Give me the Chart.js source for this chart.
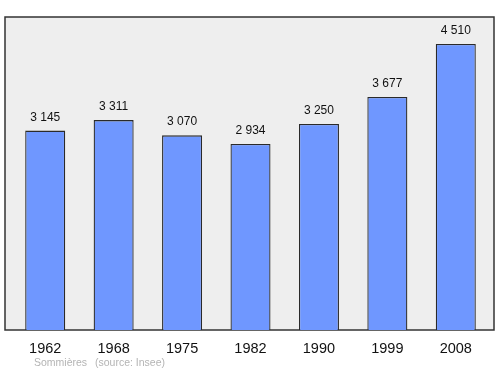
<!DOCTYPE html>
<html>
<head>
<meta charset="utf-8">
<script src="https://cdn.jsdelivr.net/npm/chart.js@4/dist/chart.umd.min.js"></script>
<style>
  html, body { margin: 0; padding: 0; background: #fff; }
  #wrap { width: 500px; height: 374px; position: relative; }
</style>
</head>
<body>
<div id="wrap"><canvas id="myChart" width="500" height="374"></canvas></div>
<script>
// donnees
const annees = ['1962', '1968', '1975', '1982', '1990', '1999', '2008'];
const population = [3145, 3311, 3070, 2934, 3250, 3677, 4510];
const etiquettes = ['3 145', '3 311', '3 070', '2 934', '3 250', '3 677', '4 510'];
const commune = 'Sommières';
const source = '(source: Insee)';
const yMax = 4937;

// fond gris + cadre
const fondPlugin = {
    id: 'fond',
    beforeDraw(chart) {
        const ctx = chart.ctx;
        const a = chart.chartArea;
        ctx.save();
        ctx.fillStyle = '#eeeeee';
        ctx.fillRect(5, a.top, 489, a.bottom - a.top);
        ctx.strokeStyle = '#333333';
        ctx.lineWidth = 1.5;
        ctx.strokeRect(5, a.top, 489, a.bottom - a.top);
        ctx.restore();
    },
    afterDatasetsDraw(chart) {
        const ctx = chart.ctx;
        const meta = chart.getDatasetMeta(0);
        ctx.save();
        ctx.font = '12px "Liberation Sans", Arial, sans-serif';
        ctx.fillStyle = '#111';
        ctx.textAlign = 'center';
        ctx.textBaseline = 'alphabetic';
        meta.data.forEach((bar, i) => {
            ctx.fillText(etiquettes[i], bar.x, bar.y - 10);
        });
        // pied
        ctx.font = '10.5px "Liberation Sans", Arial, sans-serif';
        ctx.fillStyle = '#b4b4b4';
        ctx.textAlign = 'left';
        ctx.fillText(commune, 34, 366);
        ctx.fillText(source, 95, 366);
        ctx.restore();
    }
};

const ctx = document.getElementById('myChart');

new Chart(ctx, {
    type: 'bar',
    data: {
        labels: annees,
        datasets: [{
            data: population,
            backgroundColor: '#6f97ff',
            borderColor: '#2a2a2a',
            borderWidth: 1.3,
            barPercentage: 0.585,
            categoryPercentage: 1
        }]
    },
    options: {
        responsive: false,
        animation: false,
        devicePixelRatio: 1,
        layout: { padding: { left: 11, right: 10, top: 17, bottom: 0 } },
        plugins: {
            legend: { display: false },
            tooltip: { enabled: false }
        },
        scales: {
            x: {
                grid: { display: false, drawTicks: false },
                border: { display: false },
                ticks: {
                    color: '#111',
                    padding: 10,
                    font: { family: '"Liberation Sans", Arial, sans-serif', size: 14.5 }
                },
                afterFit(s) { s.height = 44; }
            },
            y: {
                display: false,
                min: 0,
                max: yMax
            }
        }
    },
    plugins: [fondPlugin]
});
</script>
</body>
</html>
